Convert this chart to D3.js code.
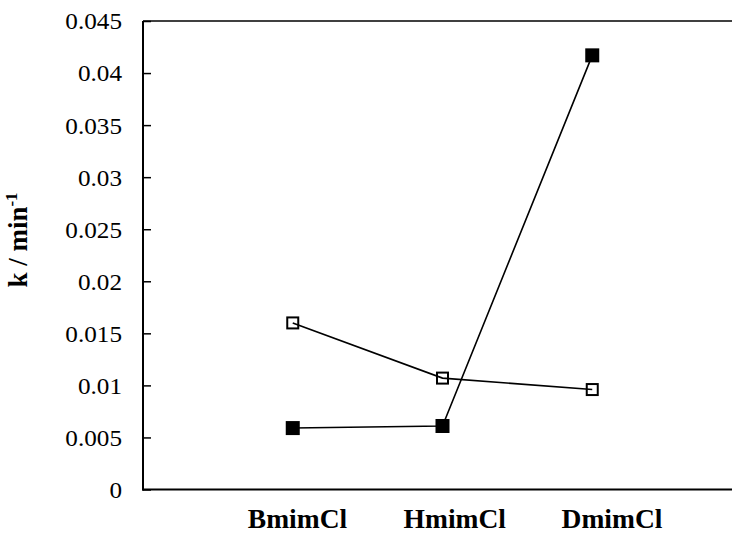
<!DOCTYPE html>
<html>
<head>
<meta charset="utf-8">
<script src="https://cdn.jsdelivr.net/npm/d3@7"></script>
<style>
  html, body { margin: 0; padding: 0; background: #fff; }
  svg { display: block; }
  text { font-family: "Liberation Serif", Tinos, "Times New Roman", Times, serif; fill: #000; }
</style>
</head>
<body>
<svg id="chart" width="732" height="535"></svg>
<script>
// Rate constants of the two reaction series in three ionic liquids
const categories = ["BmimCl", "HmimCl", "DmimCl"];
const filledSeries = [0.0059, 0.0061, 0.0417];
const openSeries = [0.0160, 0.0107, 0.0096];
const yTicks = [0, 0.005, 0.01, 0.015, 0.02, 0.025, 0.03, 0.035, 0.04, 0.045];

const svg = d3.select("#chart");
const plotLeft = 143, plotTop = 21, plotBottom = 489.5, plotRight = 742;

const x = d3.scaleLinear().domain([0, 4]).range([plotLeft, plotRight]);
const y = d3.scaleLinear().domain([0, 0.045]).range([plotBottom, plotTop]);
// category label centres along the bottom
const xLabel = d3.scaleLinear().domain([0, 2]).range([297.5, 612]);

// frame: top edge
svg.append("line")
  .attr("x1", plotLeft).attr("x2", 732).attr("y1", y(0.045)).attr("y2", y(0.045))
  .attr("stroke", "#000").attr("stroke-width", 1.5);

// y axis with inward ticks
const yAxis = d3.axisRight(y).tickValues(yTicks).tickSize(8).tickFormat("");
const gy = svg.append("g").attr("transform", `translate(${plotLeft},0)`).call(yAxis);
gy.select(".domain").remove();
gy.selectAll(".tick line").attr("stroke", "#000").attr("stroke-width", 1.5);
svg.append("line")
  .attr("x1", plotLeft).attr("x2", plotLeft).attr("y1", plotTop).attr("y2", plotBottom + 1)
  .attr("stroke", "#000").attr("stroke-width", 2);

// y tick labels
svg.append("g").selectAll("text").data(yTicks).join("text")
  .attr("transform", d => `translate(122,${y(d)}) scale(1.05,1)`)
  .attr("text-anchor", "end")
  .attr("dy", "0.35em")
  .style("font-size", "24px")
  .text(d => d === 0 ? "0" : String(+d.toFixed(3)));

// x axis line
svg.append("line")
  .attr("x1", plotLeft - 1).attr("x2", 732).attr("y1", plotBottom).attr("y2", plotBottom)
  .attr("stroke", "#000").attr("stroke-width", 2.2);

// category labels
svg.append("g").selectAll("text").data(categories).join("text")
  .attr("transform", (d, i) => `translate(${xLabel(i)},528)`)
  .attr("text-anchor", "middle")
  .style("font-size", "27.5px")
  .style("font-weight", "bold")
  .text(d => d);

// y axis title
const title = svg.append("text")
  .attr("transform", "translate(27,240) rotate(-90)")
  .attr("text-anchor", "middle")
  .style("font-size", "27px")
  .style("font-weight", "bold");
title.append("tspan").text("k / min");
title.append("tspan").attr("dy", "-10").style("font-size", "17px").text("-1");

const line = d3.line().x((d, i) => x(i + 1)).y(d => y(d));

// open-square series
svg.append("path").datum(openSeries)
  .attr("d", line).attr("fill", "none").attr("stroke", "#000").attr("stroke-width", 1.6);
svg.append("g").selectAll("rect").data(openSeries).join("rect")
  .attr("x", (d, i) => x(i + 1) - 5.5).attr("y", d => y(d) - 5.5)
  .attr("width", 11).attr("height", 11)
  .attr("fill", "none").attr("stroke", "#000").attr("stroke-width", 2);

// filled-square series
svg.append("path").datum(filledSeries)
  .attr("d", line).attr("fill", "none").attr("stroke", "#000").attr("stroke-width", 1.6);
svg.append("g").selectAll("rect").data(filledSeries).join("rect")
  .attr("x", (d, i) => x(i + 1) - 7).attr("y", d => y(d) - 7)
  .attr("width", 14).attr("height", 14)
  .attr("fill", "#000");
</script>
</body>
</html>
